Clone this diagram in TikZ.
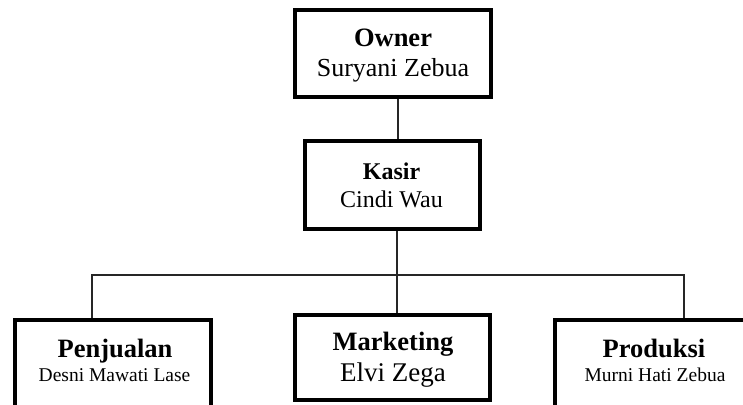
\documentclass[tikz,border=0pt]{standalone}
\usepackage{fontspec}
\setmainfont{Liberation Serif}
\begin{document}
\begin{tikzpicture}[x=1pt,y=-1pt,
  box/.style={draw=black,line width=4pt,rectangle,inner sep=0pt,fill=white},
  conn/.style={draw=black!85,line width=1.3pt},
  ttl/.style={anchor=base,inner sep=0pt,font=\bfseries},
  nm/.style={anchor=base,inner sep=0pt}]
\clip (0,0) rectangle (743,404);
\fill[white] (0,0) rectangle (743,404);
% boxes
\node[box,minimum width=196pt,minimum height=87pt] (owner) at (393,53.5) {};
\node[box,minimum width=175pt,minimum height=88pt] (kasir) at (392.5,185) {};
\node[box,minimum width=196pt,minimum height=100pt] (penjualan) at (113,370) {};
\node[box,minimum width=195pt,minimum height=85pt] (marketing) at (392.5,357.5) {};
\node[box,minimum width=196pt,minimum height=100pt] (produksi) at (653,370) {};
\coordinate (bus) at (0,275);
% connectors
\draw[conn] ([xshift=5pt]owner.south) -- ([xshift=5pt]owner.south |- kasir.north);
\draw[conn] ([xshift=4.5pt]kasir.south) -- ([xshift=4.5pt]kasir.south |- marketing.north);
\draw[conn] ([xshift=-21pt]penjualan.north) -- ([xshift=-21pt]penjualan.north |- bus)
  -- ([xshift=31pt]produksi.north |- bus) -- ([xshift=31pt]produksi.north);
% texts
\node[ttl,font=\fontsize{26.5}{30}\selectfont\bfseries] (t1) at (393,46) {Owner};
\node[nm,font=\fontsize{26}{30}\selectfont] (n1) at (393,76) {Suryani Zebua};
\node[ttl,font=\fontsize{24}{28}\selectfont\bfseries] (t2) at (391.5,179) {Kasir};
\node[nm,font=\fontsize{24}{28}\selectfont] (n2) at (391.5,207) {Cindi Wau};
\node[ttl,font=\fontsize{26.5}{30}\selectfont\bfseries] (t3) at (115,357) {Penjualan};
\node[nm,font=\fontsize{19.5}{23}\selectfont] (n3) at (114.5,381) {Desni Mawati Lase};
\node[ttl,font=\fontsize{26.5}{30}\selectfont\bfseries] (t4) at (393,350) {Marketing};
\node[nm,font=\fontsize{27}{30}\selectfont] (n4) at (393,381) {Elvi Zega};
\node[ttl,font=\fontsize{26.5}{30}\selectfont\bfseries] (t5) at (654,357) {Produksi};
\node[nm,font=\fontsize{19.5}{23}\selectfont] (n5) at (655,381) {Murni Hati Zebua};
\end{tikzpicture}
\end{document}
